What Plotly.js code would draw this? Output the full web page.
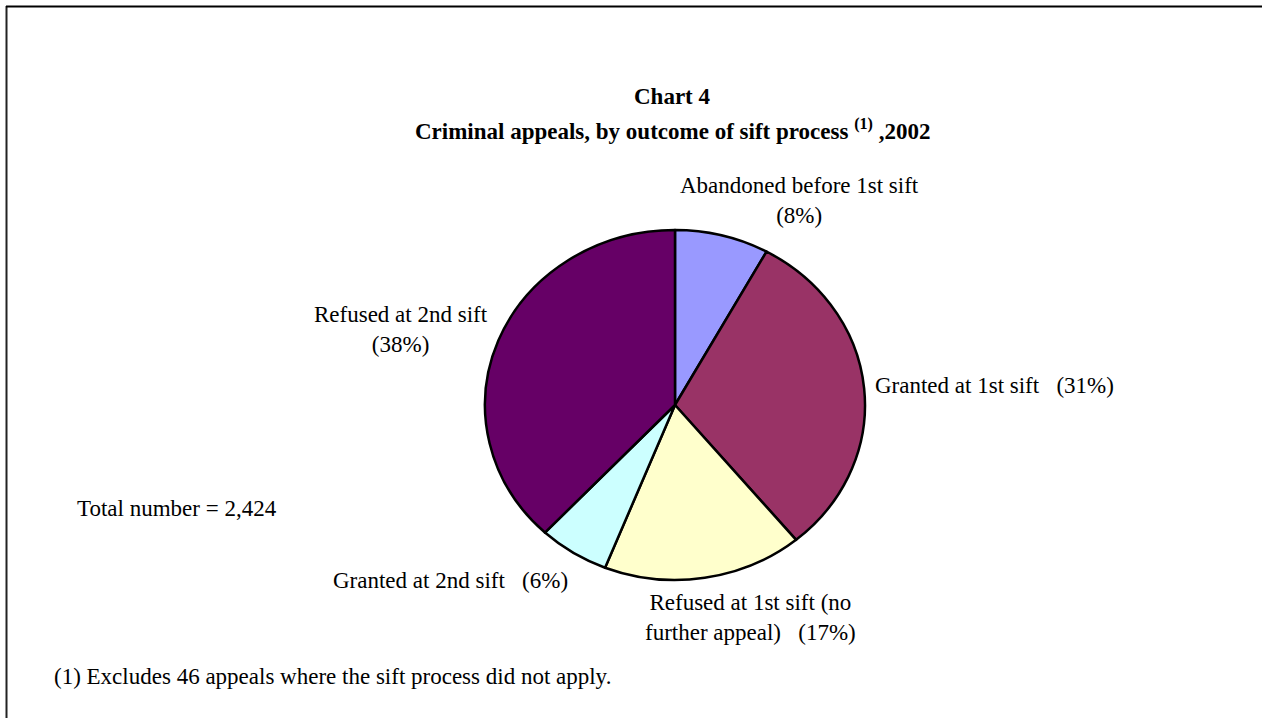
<!DOCTYPE html>
<html>
<head>
<meta charset="utf-8">
<script src="https://cdn.plot.ly/plotly-3.0.1.min.js"></script>
<style>html,body{margin:0;padding:0;background:#fff;}#chart{width:1262px;height:718px;}</style>
</head>
<body>
<div id="chart"></div>
<script>
var categories = ["Abandoned before 1st sift", "Granted at 1st sift", "Refused at 1st sift (no further appeal)", "Granted at 2nd sift", "Refused at 2nd sift"];
var shares = [8, 31, 17, 6, 38];
var colors = ["#9999FF", "#993366", "#FFFFCC", "#CCFFFF", "#660066"];
var S3 = "\u00a0\u00a0\u00a0";
var labelTexts = [
  "Abandoned before 1st sift<br>(8%)",
  "Granted at 1st sift" + S3 + "(31%)",
  "Refused at 1st sift (no<br>further appeal)" + S3 + "(17%)",
  "Granted at 2nd sift" + S3 + "(6%)",
  "Refused at 2nd sift<br>(38%)"
];
var totalText = "Total number = 2,424";
var footnote = "(1) Excludes 46 appeals where the sift process did not apply.";
var titleLine1 = "Chart 4";
var titleLine2 = "Criminal appeals, by outcome of sift process <sup>(1)</sup> ,2002";

var W = 1262, H = 718;
function px(x){ return x / W; }
function py(y){ return 1 - y / H; }

var cx = 675, cy = 405, rx = 190, ry = 175;
var font = {family: "Liberation Serif, Times New Roman, serif", size: 23, color: "#000"};

var labelPos = [
  {x: 799, y: 200, xa: "center"},
  {x: 873, y: 385, xa: "left"},
  {x: 750, y: 617, xa: "center"},
  {x: 450, y: 580, xa: "center"},
  {x: 401, y: 330, xa: "center"}
];

var annotations = labelTexts.map(function(t, i){
  return {text: t, x: px(labelPos[i].x), y: py(labelPos[i].y), xref: "paper", yref: "paper",
    xanchor: labelPos[i].xa, yanchor: "middle", showarrow: false, font: font, align: "center"};
});
annotations.push({text: totalText, x: px(75), y: py(508), xref: "paper", yref: "paper", xanchor: "left", yanchor: "middle", showarrow: false, font: font});
annotations.push({text: footnote, x: px(52), y: py(676), xref: "paper", yref: "paper", xanchor: "left", yanchor: "middle", showarrow: false, font: font});
annotations.push({text: "<b>" + titleLine1 + "</b>", x: px(672), y: py(97), xref: "paper", yref: "paper", xanchor: "center", yanchor: "middle", showarrow: false, font: font});
annotations.push({text: "<b>" + titleLine2 + "</b>", x: px(672), y: py(130), xref: "paper", yref: "paper", xanchor: "center", yanchor: "middle", showarrow: false, font: font});

var data = [{
  type: "pie",
  labels: categories,
  values: shares,
  sort: false,
  direction: "clockwise",
  rotation: 0,
  marker: {colors: colors, line: {color: "#000", width: 2.5}},
  textinfo: "none",
  hoverinfo: "label+percent",
  showlegend: false,
  domain: {x: [px(cx - ry), px(cx + ry)], y: [py(cy + ry), py(cy - ry)]}
}];

var layout = {
  width: W, height: H,
  margin: {l: 0, r: 0, t: 0, b: 0},
  paper_bgcolor: "#fff",
  showlegend: false,
  annotations: annotations,
  shapes: [
    {type: "line", xref: "paper", yref: "paper", x0: px(6.5), x1: px(6.5), y0: py(6), y1: 0, line: {color: "#222", width: 2}},
    {type: "line", xref: "paper", yref: "paper", x0: px(6), x1: 1, y0: py(6.5), y1: py(6.5), line: {color: "#000", width: 2}}
  ]
};

Plotly.newPlot("chart", data, layout, {displayModeBar: false, staticPlot: true}).then(function(gd){
  // stretch the pie horizontally to match the slightly elliptical original
  var layer = gd.querySelector(".pielayer");
  if (layer) {
    var sx = rx / ry;
    layer.setAttribute("transform", "translate(" + cx + "," + cy + ") scale(" + sx + ",1) translate(" + (-cx) + "," + (-cy) + ")");
    layer.querySelectorAll("path").forEach(function(p){ p.style.vectorEffect = "non-scaling-stroke"; });
  }
});
</script>
</body>
</html>
